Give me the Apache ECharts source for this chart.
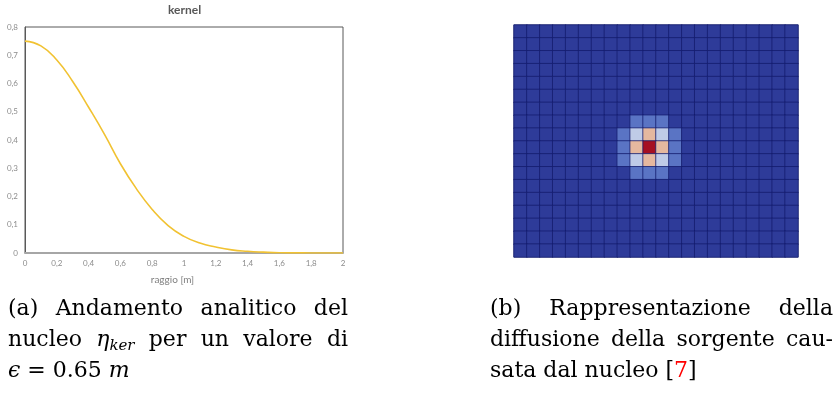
<!DOCTYPE html>
<html><head><meta charset="utf-8">
<script src="https://cdn.jsdelivr.net/npm/echarts@6/dist/echarts.min.js"></script>
<style>html,body{margin:0;padding:0;background:#fff}#c{width:838px;height:394px}</style>
</head><body><div id="c"></div>
<script>
// ---- data: kernel curve ----
const radius = [0, 0.1, 0.2, 0.3, 0.4, 0.5, 0.6, 0.7, 0.8, 0.9, 1.0, 1.1, 1.2, 1.3, 1.4, 1.5, 1.6, 1.7, 1.8, 1.9, 2.0];
const kernel = [0.750, 0.733, 0.683, 0.607, 0.516, 0.420, 0.316, 0.228, 0.154, 0.097, 0.059, 0.035, 0.021, 0.011, 0.006, 0.003, 0.001, 0.0005, 0.0002, 0.0001, 0];
const xTickLabels = ['0', '0,2', '0,4', '0,6', '0,8', '1', '1,2', '1,4', '1,6', '1,8', '2'];
const yTickLabels = ['0', '0,1', '0,2', '0,3', '0,4', '0,5', '0,6', '0,7', '0,8'];
const chartTitle = 'kernel';
const xAxisTitle = 'raggio [m]';

// ---- data: source diffusion grid (levels 0..4), rows top to bottom ----
const heatLevels = [
  [0,0,0,0,0,0,0,0,0,0,0,0,0,0,0,0,0,0,0,0,0,0],
  [0,0,0,0,0,0,0,0,0,0,0,0,0,0,0,0,0,0,0,0,0,0],
  [0,0,0,0,0,0,0,0,0,0,0,0,0,0,0,0,0,0,0,0,0,0],
  [0,0,0,0,0,0,0,0,0,0,0,0,0,0,0,0,0,0,0,0,0,0],
  [0,0,0,0,0,0,0,0,0,0,0,0,0,0,0,0,0,0,0,0,0,0],
  [0,0,0,0,0,0,0,0,0,0,0,0,0,0,0,0,0,0,0,0,0,0],
  [0,0,0,0,0,0,0,0,0,0,0,0,0,0,0,0,0,0,0,0,0,0],
  [0,0,0,0,0,0,0,0,0,1,1,1,0,0,0,0,0,0,0,0,0,0],
  [0,0,0,0,0,0,0,0,1,2,3,2,1,0,0,0,0,0,0,0,0,0],
  [0,0,0,0,0,0,0,0,1,3,4,3,1,0,0,0,0,0,0,0,0,0],
  [0,0,0,0,0,0,0,0,1,2,3,2,1,0,0,0,0,0,0,0,0,0],
  [0,0,0,0,0,0,0,0,0,1,1,1,0,0,0,0,0,0,0,0,0,0],
  [0,0,0,0,0,0,0,0,0,0,0,0,0,0,0,0,0,0,0,0,0,0],
  [0,0,0,0,0,0,0,0,0,0,0,0,0,0,0,0,0,0,0,0,0,0],
  [0,0,0,0,0,0,0,0,0,0,0,0,0,0,0,0,0,0,0,0,0,0],
  [0,0,0,0,0,0,0,0,0,0,0,0,0,0,0,0,0,0,0,0,0,0],
  [0,0,0,0,0,0,0,0,0,0,0,0,0,0,0,0,0,0,0,0,0,0],
  [0,0,0,0,0,0,0,0,0,0,0,0,0,0,0,0,0,0,0,0,0,0]
];
const levelColors = ['#2e3b99', '#5a74c4', '#bfcbe7', '#e5b89f', '#a50f22'];

// ---- captions ----
// each word: list of segments [text, italic, subscript, color]
const captionA = [
  [[['(a)']], [['Andamento']], [['analitico']], [['del']]],
  [[['nucleo']], [['η', 1], ['ker', 1, 1]], [['per']], [['un']], [['valore']], [['di']]],
  [[['ϵ', 1], [' = 0.65 '], ['m', 1]]]
];
const captionB = [
  [[['(b)']], [['Rappresentazione']], [['della']]],
  [[['diffusione']], [['della']], [['sorgente']], [['cau-']]],
  [[['sata']], [['dal']], [['nucleo']], [['['], ['7', 0, 0, '#ff0000'], [']']]]
];

const FONT = '"DejaVu Serif"';
const FS = 22, FS_SUB = 15;
const mctx = document.createElement('canvas').getContext('2d');
function tw(t, size, it) {
  mctx.font = (it ? 'italic ' : '') + size + 'px ' + FONT;
  return mctx.measureText(t).width;
}
function segW(s) { return tw(s[0], s[2] ? FS_SUB : FS, s[1]); }
function wordW(w) { return w.reduce((a, s) => a + segW(s), 0); }

function layoutCaption(lines, x0, x1, baselines) {
  const els = [];
  lines.forEach((words, li) => {
    const justify = li < lines.length - 1;
    const widths = words.map(wordW);
    const sum = widths.reduce((a, b) => a + b, 0);
    const gap = justify && words.length > 1 ? (x1 - x0 - sum) / (words.length - 1) : tw(' ', FS, 0);
    let x = x0;
    words.forEach((w, wi) => {
      let sx = x;
      w.forEach(s => {
        const size = s[2] ? FS_SUB : FS;
        els.push({
          type: 'text', x: sx, y: baselines[li] - 7.6 + (s[2] ? 5.5 : 0), silent: true,
          style: { text: s[0], fontFamily: FONT, fontSize: size, fontStyle: s[1] ? 'italic' : 'normal',
                   fill: s[3] || '#000', align: 'left', verticalAlign: 'middle' }
        });
        sx += segW(s);
      });
      x += widths[wi] + gap;
    });
  });
  return els;
}

const heatData = [];
heatLevels.forEach((row, r) => row.forEach((v, c) => heatData.push([c, r, v])));
const colIdx = heatLevels[0].map((_, i) => String(i));
const rowIdx = heatLevels.map((_, i) => String(i));

const chart = echarts.init(document.getElementById('c'), null, { renderer: 'canvas' });
const tickFont = { color: '#8c8c8c', fontFamily: 'Lato', fontSize: 8 };
chart.setOption({
  animation: false,
  title: { text: chartTitle, left: 163, top: -1, textStyle: { fontFamily: 'Lato', fontWeight: 'bold', fontSize: 12, color: '#595959' } },
  grid: [
    { left: 25, top: 27, width: 318, height: 226, show: true, borderColor: '#595959', borderWidth: 1 },
    { left: 514, top: 25, width: 284, height: 232, show: true, borderColor: '#6f7596', borderWidth: 1, backgroundColor: levelColors[0] }
  ],
  xAxis: [
    { gridIndex: 0, type: 'value', min: 0, max: 2, interval: 0.2,
      axisLine: { show: true, onZero: false, lineStyle: { color: '#a6a6a6', width: 2 } },
      axisTick: { show: false }, splitLine: { show: false },
      axisLabel: Object.assign({ margin: 6, formatter: v => xTickLabels[Math.round(v / 0.2)] }, tickFont),
      name: xAxisTitle, nameLocation: 'middle', nameGap: 22,
      nameTextStyle: { color: '#7f7f7f', fontFamily: 'Lato', fontSize: 10, padding: [0, 23, 0, 0] } },
    { gridIndex: 1, type: 'category', data: colIdx, show: false }
  ],
  yAxis: [
    { gridIndex: 0, type: 'value', min: 0, max: 0.8, interval: 0.1,
      axisLine: { show: true, lineStyle: { color: '#595959', width: 1 } },
      axisTick: { show: false }, splitLine: { show: false },
      axisLabel: Object.assign({ margin: 7, formatter: v => yTickLabels[Math.round(v * 10)] }, tickFont) },
    { gridIndex: 1, type: 'category', data: rowIdx, inverse: true, show: false }
  ],
  visualMap: { type: 'piecewise', show: false, seriesIndex: 1, dimension: 2,
    pieces: levelColors.map((c, i) => ({ value: i, color: c })) },
  series: [
    { type: 'line', xAxisIndex: 0, yAxisIndex: 0, data: radius.map((r, i) => [r, kernel[i]]),
      smooth: true, showSymbol: false, lineStyle: { color: '#f1c232', width: 1.6 } },
    { type: 'heatmap', xAxisIndex: 1, yAxisIndex: 1, data: heatData,
      itemStyle: { borderColor: 'rgba(20,28,110,0.75)', borderWidth: 1 }, emphasis: { disabled: true } }
  ],
  graphic: layoutCaption(captionA, 8, 348, [317, 348, 379]).concat(layoutCaption(captionB, 490, 833, [317, 348, 379]))
});
</script></body></html>
